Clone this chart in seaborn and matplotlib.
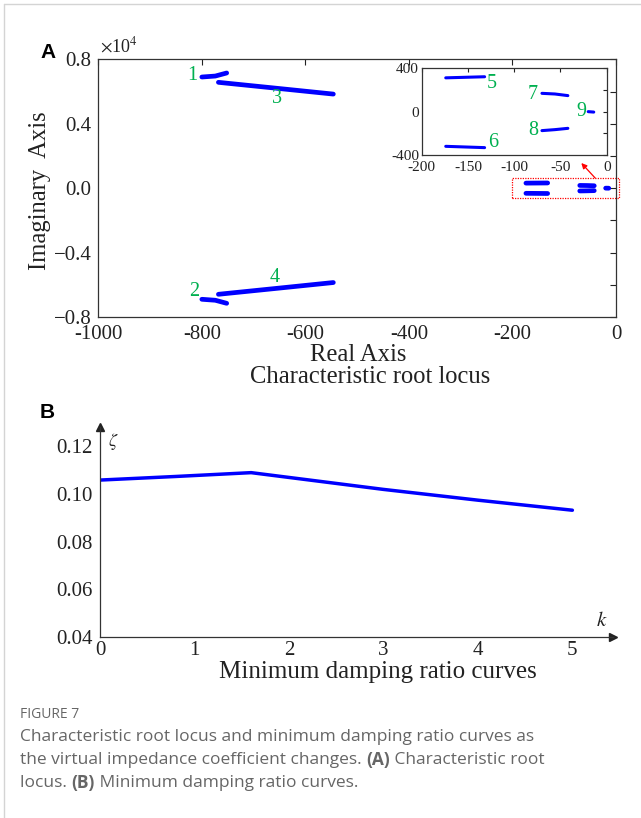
import numpy as np
import pandas as pd
import matplotlib
matplotlib.use("Agg")
import matplotlib.pyplot as plt
from matplotlib.lines import Line2D
from matplotlib.patches import Rectangle
import seaborn as sns

# Root locus branches (real part, imaginary part)
b1_re = [-800, -774, -752]
b1_im = [6900, 6960, 7150]
b2_re = [-800, -774, -752]
b2_im = [-6900, -6960, -7150]
b3_re = [-768, -655, -546]
b3_im = [6570, 6200, 5840]
b4_re = [-768, -655, -546]
b4_im = [-6590, -6220, -5860]
b5_re = [-174, -132]
b5_im = [312, 322]
b6_re = [-174, -132]
b6_im = [-320, -332]
b7_re = [-70, -56, -42]
b7_im = [169, 163, 148]
b8_re = [-70, -56, -42]
b8_im = [-175, -166, -154]
b9_re = [-20, -14]
b9_im = [0, -4]

main_labels = ["1", "2", "3", "4"]
main_label_re = [-818, -815, -655, -660]
main_label_im = [7020, -6420, 5570, -5550]
inset_labels = ["5", "6", "7", "8", "9"]
inset_label_re = [-124, -123, -80, -79, -27]
inset_label_im = [256, -283, 154, -175, 0]

# Minimum damping ratio vs virtual impedance coefficient k
k_vals = [0, 0.8, 1.6, 2.0, 3, 4, 5]
zeta_vals = [0.1057, 0.1072, 0.1088, 0.1068, 0.1018, 0.0973, 0.0931]

branches = [(b1_re, b1_im), (b2_re, b2_im), (b3_re, b3_im), (b4_re, b4_im),
            (b5_re, b5_im), (b6_re, b6_im), (b7_re, b7_im), (b8_re, b8_im),
            (b9_re, b9_im)]
rows = []
for i, (re, im) in enumerate(branches):
    for r, m in zip(re, im):
        rows.append({"branch": i + 1, "re": r, "im": m})
df_locus = pd.DataFrame(rows)
df_small = df_locus[df_locus["branch"] >= 5]
df_zeta = pd.DataFrame({"k": k_vals, "zeta": zeta_vals})

sns.set_theme(style="white")
plt.rcParams["font.family"] = ["Liberation Serif", "DejaVu Serif"]
plt.rcParams["mathtext.fontset"] = "stix"
plt.rcParams["axes.unicode_minus"] = False

W, H = 641, 818
fig = plt.figure(figsize=(W / 100, H / 100), dpi=100)
fig.patch.set_facecolor("white")

def fx(px):
    return px / W

def fy(py):
    return 1 - py / H

tick_col = "#222222"
green = "#00b050"

# ---------- panel A ----------
axA = fig.add_axes([fx(98.3), fy(317), fx(616 - 98.3), (317 - 59.3) / H])
sns.lineplot(data=df_locus, x="re", y="im", units="branch", estimator=None,
             sort=False, color="#0000ff", lw=3.4, solid_capstyle="round", ax=axA)
axA.set_xlim(-1000, 0)
axA.set_ylim(-8000, 8000)
axA.set_xticks(np.arange(-1000, 1, 200))
axA.set_xticklabels(["-1000", "-800", "-600", "-400", "-200", "0"])
axA.set_yticks(np.arange(-8000, 8001, 2000))
axA.set_yticklabels(["\u22120.8", "", "\u22120.4", "", "0.0", "", "0.4", "", "0.8"])
axA.tick_params(direction="in", length=4, width=0.8, top=True, right=True,
                labelsize=15, colors=tick_col, pad=5)
axA.tick_params(axis="x", pad=6)
axA.set_xlabel("")
axA.set_ylabel("")
for s in axA.spines.values():
    s.set_color("#333333")
    s.set_linewidth(0.9)

for t, x, y in zip(main_labels, main_label_re, main_label_im):
    axA.text(x, y, t, color=green, fontsize=14.5, ha="center", va="center")

axA.add_patch(Rectangle((-201, -620), 207, 1240, fill=False, ec="red",
                        ls=(0, (1, 1)), lw=0.9, clip_on=False))
axA.annotate("", xy=(-67, 1560), xytext=(-40, 620),
             arrowprops=dict(arrowstyle="-|>", color="red", lw=0.9,
                             mutation_scale=8, shrinkA=0, shrinkB=0))

# inset
axI = fig.add_axes([fx(421.7), fy(155), fx(606.7 - 421.7), (155 - 68.3) / H])
sns.lineplot(data=df_small, x="re", y="im", units="branch", estimator=None,
             sort=False, color="#0000ff", lw=2.2, solid_capstyle="round", ax=axI)
axI.set_xlim(-200, 0)
axI.set_ylim(-400, 400)
axI.set_xticks([-200, -150, -100, -50, 0])
axI.set_xticklabels(["-200", "-150", "-100", "-50", "0"])
axI.set_yticks([-400, -200, 0, 200, 400])
axI.set_yticklabels(["-400", "", "0", "", "400"])
axI.tick_params(direction="in", length=3, width=0.8, top=True, right=True,
                labelsize=11, colors=tick_col, pad=2)
axI.tick_params(axis="x", pad=4)
axI.set_xlabel("")
axI.set_ylabel("")
for s in axI.spines.values():
    s.set_color("#333333")
    s.set_linewidth(0.9)
for t, x, y in zip(inset_labels, inset_label_re, inset_label_im):
    axI.text(x, y, t, color=green, fontsize=14.5, ha="center", va="center")

fig.text(fx(100), fy(56), r"$\times$10$^{4}$", fontsize=13, color=tick_col,
         ha="left", va="bottom")
fig.text(fx(40), fy(52), "A", fontsize=15, fontweight="bold",
         family=["Liberation Sans"], ha="left", va="center", color="black")
fig.text(fx(358), fy(355), "Real Axis", fontsize=17.7, ha="center", va="center",
         color=tick_col)
fig.text(fx(370), fy(377), "Characteristic root locus", fontsize=17.7,
         ha="center", va="center", color=tick_col)
fig.text(fx(40), fy(191), "Imaginary  Axis", fontsize=17.7, rotation=90,
         ha="center", va="center", color=tick_col)

# ---------- panel B ----------
axB = fig.add_axes([fx(100), fy(637.3), fx(613 - 100), (637.3 - 426.7) / H])
sns.lineplot(data=df_zeta, x="k", y="zeta", color="#0000ff", lw=2.5,
             solid_capstyle="round", ax=axB)
axB.set_xlim(0, 5.43)
axB.set_ylim(0.04, 0.128)
axB.set_xticks([0, 1, 2, 3, 4, 5])
axB.set_yticks([0.04, 0.06, 0.08, 0.10, 0.12])
axB.set_yticklabels(["0.04", "0.06", "0.08", "0.10", "0.12"])
axB.tick_params(direction="in", length=4, width=0.8, labelsize=15,
                colors=tick_col, pad=3)
axB.tick_params(axis="y", pad=5)
axB.set_xlabel("")
axB.set_ylabel("")
for side in ["top", "right"]:
    axB.spines[side].set_visible(False)
for side in ["left", "bottom"]:
    axB.spines[side].set_color("#333333")
    axB.spines[side].set_linewidth(0.9)
axB.plot(1, 0, ">", color="#222222", ms=6, transform=axB.transAxes, clip_on=False)
axB.plot(0, 1, "^", color="#222222", ms=6, transform=axB.transAxes, clip_on=False)

fig.text(fx(113), fy(442), r"$\zeta$", fontsize=13, ha="center", va="center",
         color=tick_col)
fig.text(fx(602), fy(622), r"$k$", fontsize=15, ha="center", va="center",
         color=tick_col)
fig.text(fx(40), fy(412), "B", fontsize=15, fontweight="bold",
         family=["Liberation Sans"], ha="left", va="center", color="black")
fig.text(fx(377.5), fy(672), "Minimum damping ratio curves", fontsize=18,
         ha="center", va="center", color=tick_col)

# ---------- caption ----------
cap_col = "#666666"
cap_font = ["Open Sans", "DejaVu Sans"]
fig.text(fx(20), fy(714), "FIGURE 7", fontsize=10, color=cap_col,
         family=cap_font, ha="left", va="center")

renderer = fig.canvas.get_renderer()

def caption_line(py, parts):
    x = fx(20)
    for txt, bold in parts:
        t = fig.text(x, fy(py), txt, fontsize=12.5, color=cap_col,
                     family=cap_font, fontweight="bold" if bold else "normal",
                     ha="left", va="center")
        bb = t.get_window_extent(renderer=renderer)
        x += bb.width / W

caption_line(737, [("Characteristic root locus and minimum damping ratio curves as", False)])
caption_line(760, [("the virtual impedance coefficient changes. ", False), ("(A)", True),
                   (" Characteristic root", False)])
caption_line(783, [("locus. ", False), ("(B)", True), (" Minimum damping ratio curves.", False)])

# page border lines
fig.add_artist(Line2D([fx(4), fx(4)], [0, fy(4)], color="#d4d4d4", lw=1))
fig.add_artist(Line2D([fx(4), 1], [fy(4), fy(4)], color="#d4d4d4", lw=1))

fig.savefig("out.png", dpi=100, facecolor="white")
